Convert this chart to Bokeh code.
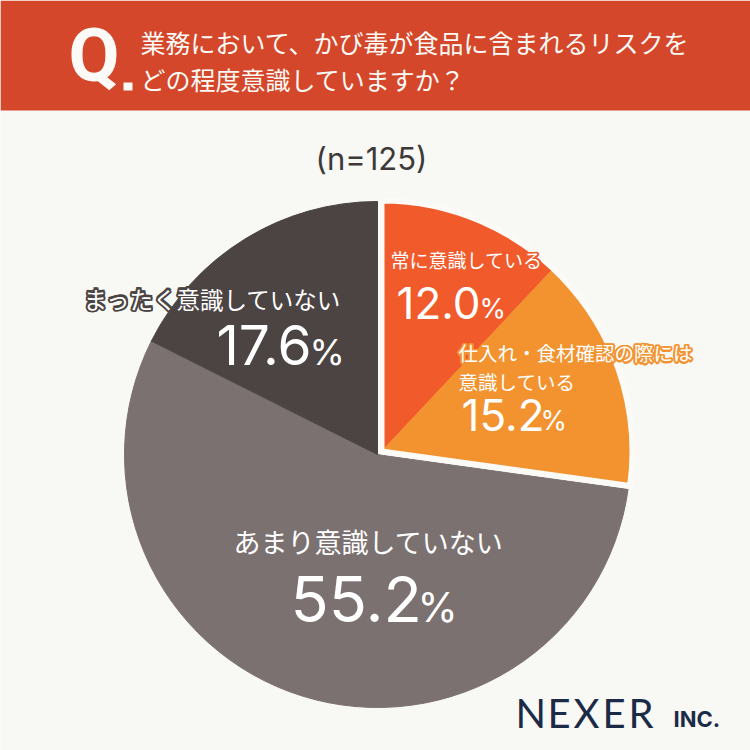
import numpy as np
from bokeh.plotting import figure
from bokeh.models import Range1d, ColumnDataSource
from bokeh.core.properties import value
from bokeh.embed import file_html
from bokeh.resources import INLINE

# ---- data ----
categories = ["常に意識している", "仕入れ・食材確認の際には意識している", "あまり意識していない", "まったく意識していない"]
values = [12.0, 15.2, 55.2, 17.6]
colors = ["#f15a2b", "#f29330", "#7b7170", "#4b4443"]
title_lines = ["業務において、かび毒が食品に含まれるリスクを", "どの程度意識していますか？"]
sample_label = "(n=125)"
logo_letters = ["N", "E", "X", "E", "R"]

W = H = 750
def Y(y):
    return H - y

p = figure(width=W, height=H, x_range=Range1d(0, W), y_range=Range1d(0, H),
           output_backend="svg", toolbar_location=None,
           x_axis_location=None, y_axis_location=None, min_border=0)
p.grid.visible = False
p.outline_line_color = None
p.background_fill_color = "#f8f8f4"
p.border_fill_color = "#f8f8f4"

# header
p.quad(left=0, right=W, top=Y(0), bottom=Y(110), fill_color="#d4472a", line_color=None)
p.text(x=[68], y=[Y(55)], text=["Q"], text_font=value("Roboto"), text_font_style="bold",
       text_font_size=value("74px"), text_color="#fbfaf6", text_baseline="middle")
p.quad(left=123, right=132, top=Y(82), bottom=Y(90), fill_color="#fbfaf6", line_color=None)
p.text(x=[140, 140], y=[Y(41), Y(78)], text=title_lines, text_font=value("Noto Sans CJK JP"),
       text_font_size=value("25px"), text_color="#fbfaf6", text_baseline="middle")

# n label
p.text(x=[371], y=[Y(158)], text=[sample_label], text_font=value("Inter"),
       text_font_size=value("31px"), text_color="#3d3939", text_align="center", text_baseline="middle")

# ---- pie ----
fr = np.array(values) / sum(values)
cum = np.concatenate([[0], np.cumsum(fr)])
start = np.pi / 2 - cum[:-1] * 2 * np.pi
end = np.pi / 2 - cum[1:] * 2 * np.pi

cx, cy, r = 377, 454, 253       # main pie centre (screen coords)
gx, gy, gr = 381, 451, 251      # exploded group centre

main = ColumnDataSource(dict(start=start[2:], end=end[2:], color=colors[2:]))
p.wedge(x=cx, y=Y(cy), radius=r, start_angle="start", end_angle="end", direction="clock",
        fill_color="color", line_color="color", line_width=1, source=main)
grp = ColumnDataSource(dict(start=start[:2], end=end[:2], color=colors[:2]))
p.wedge(x=gx, y=Y(gy), radius=gr, start_angle="start", end_angle="end", direction="clock",
        fill_color="color", line_color="color", line_width=1, source=grp)
p.wedge(x=gx, y=Y(gy), radius=gr, start_angle=start[0], end_angle=end[1], direction="clock",
        fill_color=None, line_color="#fbfaf6", line_width=6)

# ---- labels ----
jp = value("Noto Sans CJK JP")
num = value("Inter")
offs = [(-1.5, 0), (1.5, 0), (0, -1.5), (0, 1.5), (-1.1, -1.1), (1.1, 1.1), (-1.1, 1.1), (1.1, -1.1)]

def jtext(x, y, s, size, outline=None):
    if outline:
        p.text(x=[x + dx for dx, dy in offs], y=[Y(y) + dy for dx, dy in offs], text=[s] * len(offs),
               text_font=jp, text_font_size=value(size), text_color=outline,
               text_outline_color=outline, text_baseline="middle")
    p.text(x=[x], y=[Y(y)], text=[s], text_font=jp, text_font_size=value(size),
           text_color="white", text_baseline="middle")

def pct(x, y, v, size, psize, pdx, pdy):
    p.text(x=[x], y=[Y(y)], text=[f"{v:.1f}"], text_font=num, text_font_size=value(size),
           text_color="white", text_baseline="middle")
    p.text(x=[x + pdx], y=[Y(y + pdy)], text=["%"], text_font=num, text_font_size=value(psize),
           text_color="white", text_baseline="middle")

jtext(390, 259, categories[0], "19px", colors[0])
pct(396, 302, values[0], "44px", "27px", 83, 6)

jtext(458, 352, "仕入れ・食材確認の際には", "19.5px", colors[1])
jtext(458, 381, "意識している", "19.5px")
pct(461, 414, values[1], "44px", "27px", 79, 6)

jtext(83, 298, categories[3], "23.5px", colors[3])
pct(216, 344, values[3], "55px", "36px", 93, 7)

jtext(233, 541, categories[2], "27px")
pct(290, 598, values[2], "63px", "41px", 127, 8)

# logo
p.text(x=[515, 547, 573, 602, 628], y=[Y(712)] * 5, text=logo_letters, text_font=value("Lato"),
       text_font_size=value("40px"), text_color="#1b2b47", text_baseline="middle")
p.text(x=[673], y=[Y(718)], text=["INC."], text_font=value("Inter"), text_font_style="bold",
       text_font_size=value("22px"), text_color="#1b2b47", text_baseline="middle")

open("out.html", "w").write(file_html(p, INLINE))
